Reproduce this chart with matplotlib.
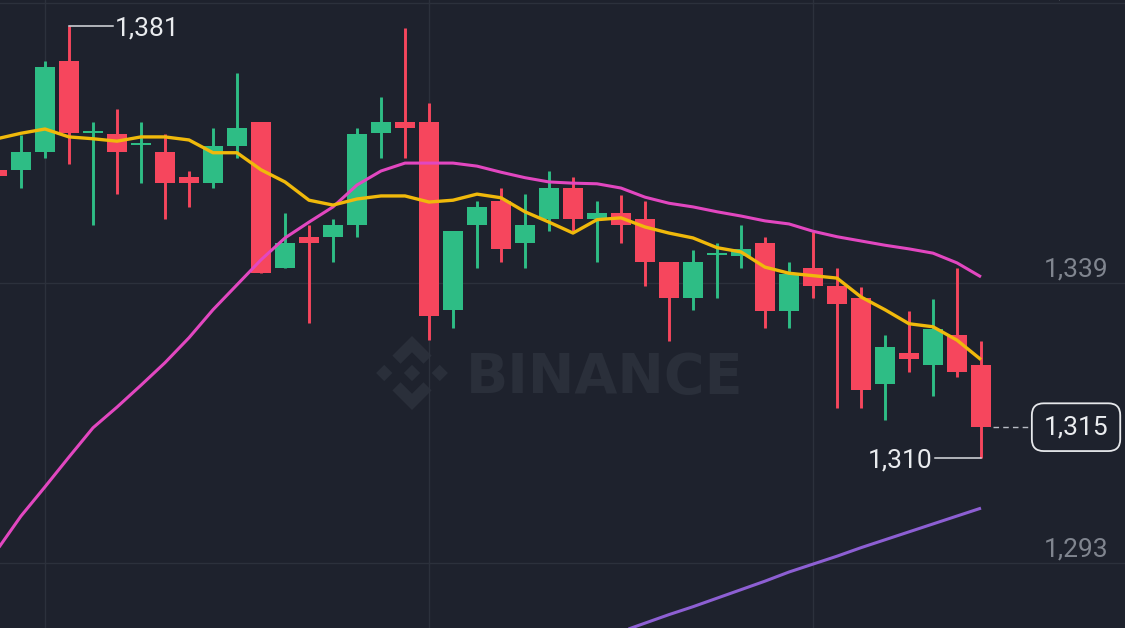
import matplotlib
matplotlib.use('Agg')
import matplotlib.pyplot as plt
from matplotlib.patches import Polygon
from matplotlib.transforms import Affine2D

plt.rc('font', family=['Roboto', 'DejaVu Sans'])
plt.rc('axes', linewidth=0)

bg = '#1e222d'
grid_c = '#2c313c'
up_c = '#2ebd85'
down_c = '#f6465d'
ma7_c = '#f0b90b'
ma25_c = '#e247c0'
ma99_c = '#8d5fd3'
wm_c = '#2a2f3a'

# candle index (k=0 sits on the first vertical grid line)
idx = list(range(-2, 40))
opens = [1357.6, 1357.6, 1360.5, 1375.5, 1363.6, 1363.5, 1361.7, 1360.5, 1356.4, 1355.4,
         1361.5, 1365.5, 1341.5, 1346.6, 1346.6, 1348.5, 1363.6, 1365.5, 1365.5, 1334.6,
         1348.5, 1352.5, 1345.6, 1349.5, 1354.6, 1349.5, 1350.5, 1349.5, 1342.5, 1336.5,
         1343.6, 1343.4, 1345.6, 1334.4, 1341.5, 1338.5, 1336.5, 1322.4, 1327.5, 1325.5,
         1330.5, 1325.5]
highs = [1357.6, 1363.3, 1375.5, 1381.2, 1365.5, 1367.6, 1365.5, 1363.5, 1357.4, 1364.5,
         1373.5, 1365.5, 1350.5, 1348.5, 1349.5, 1364.5, 1369.6, 1380.9, 1368.6, 1347.5,
         1352.5, 1354.6, 1353.6, 1357.4, 1356.4, 1352.5, 1353.5, 1352.5, 1342.5, 1344.4,
         1345.6, 1348.5, 1346.6, 1342.5, 1347.4, 1341.5, 1338.3, 1330.5, 1334.4, 1336.4,
         1341.5, 1329.5]
lows = [1356.6, 1354.6, 1359.5, 1358.6, 1348.5, 1353.6, 1355.4, 1349.5, 1351.5, 1354.6,
        1359.5, 1340.6, 1341.5, 1332.4, 1342.5, 1346.6, 1359.5, 1359.5, 1329.6, 1331.6,
        1341.5, 1342.5, 1341.5, 1347.5, 1347.5, 1342.5, 1345.6, 1338.5, 1329.5, 1334.6,
        1336.5, 1341.5, 1331.6, 1331.6, 1336.5, 1318.5, 1318.5, 1316.5, 1324.4, 1320.4,
        1323.6, 1310.2]
closes = [1356.6, 1360.5, 1374.5, 1363.6, 1364.0, 1360.5, 1362.0, 1355.4, 1355.4, 1361.5,
          1364.5, 1340.6, 1345.6, 1345.6, 1348.5, 1363.5, 1365.5, 1364.5, 1333.6, 1347.5,
          1351.5, 1344.6, 1348.5, 1354.6, 1349.5, 1350.5, 1348.5, 1342.5, 1336.5, 1342.5,
          1343.9, 1344.6, 1334.4, 1340.5, 1338.5, 1335.5, 1321.4, 1328.5, 1326.5, 1331.4,
          1324.4, 1315.3]

ma7 = [1362.7, 1363.6, 1364.3, 1363.0, 1362.7, 1362.3, 1363.0, 1363.0, 1362.5, 1360.4,
       1360.4, 1357.6, 1355.6, 1352.6, 1351.8, 1352.8, 1353.3, 1353.3, 1352.3, 1352.6,
       1353.6, 1353.0, 1350.7, 1349.0, 1347.2, 1349.4, 1349.7, 1348.2, 1347.2, 1346.4,
       1344.8, 1344.1, 1341.6, 1340.6, 1340.2, 1339.8, 1336.7, 1334.6, 1332.3, 1331.8,
       1329.6, 1326.4]
ma25 = [1295.1, 1300.7, 1305.5, 1310.4, 1315.2, 1318.6, 1322.2, 1325.9, 1330.0, 1334.6,
        1338.7, 1342.8, 1346.4, 1349.0, 1351.5, 1355.1, 1357.4, 1358.7, 1358.7, 1358.7,
        1358.2, 1357.2, 1356.3, 1355.6, 1355.4, 1355.3, 1354.6, 1353.1, 1352.1, 1351.5,
        1350.7, 1350.0, 1349.2, 1348.7, 1347.5, 1346.6, 1345.9, 1345.2, 1344.6, 1343.9,
        1342.3, 1340.0]
ma99_idx = list(range(23, 40))
ma99 = [1280.3, 1281.7, 1283.1, 1284.5, 1285.8, 1287.2, 1288.6, 1290.0, 1291.5, 1292.8,
        1294.1, 1295.5, 1296.8, 1298.1, 1299.4, 1300.7, 1302.0]

grid_prices = [1385, 1339, 1293]
grid_labels = ['1,385', '1,339', '1,293']
grid_idx = [0, 16, 32]

hi_idx, hi_price, hi_text = 1, 1381.2, '1,381'
lo_idx, lo_price, lo_text = 39, 1310.2, '1,310'
last_price, last_text = 1315.3, '1,315'

fig = plt.figure(figsize=(11.25, 6.28), dpi=100)
fig.patch.set_facecolor(bg)
ax = fig.add_axes([0, 0, 1, 1])
ax.set_facecolor(bg)
ax.set_xlim(-1.875, 45)
ax.set_ylim(1282.3, 1385.5)
ax.set_xticks([])
ax.set_yticks([])

for p in grid_prices:
    ax.axhline(p, color=grid_c, lw=1.0, zorder=0.2)
for k in grid_idx:
    ax.axvline(k, color=grid_c, lw=1.0, zorder=0.2)

# watermark
ax.text(466/1125., 1-393/628., 'BINANCE', transform=ax.transAxes, fontsize=40,
        fontweight='bold', family='DejaVu Sans', color=wm_c, va='baseline', ha='left', zorder=0.1)
logo_tr = Affine2D().scale(37/1125., 37/628.).translate(412/1125., 1-373/628.) + ax.transAxes
logo_parts = [
    [(0, 0.22), (0.22, 0), (0, -0.22), (-0.22, 0)],
    [(-0.75, 0.22), (-0.53, 0), (-0.75, -0.22), (-0.97, 0)],
    [(0.75, 0.22), (0.97, 0), (0.75, -0.22), (0.53, 0)],
    [(0, 1), (0.53, 0.47), (0.31, 0.25), (0, 0.56), (-0.31, 0.25), (-0.53, 0.47)],
    [(0, -1), (0.53, -0.47), (0.31, -0.25), (0, -0.56), (-0.31, -0.25), (-0.53, -0.47)],
]
for part in logo_parts:
    ax.add_patch(Polygon(part, closed=True, fc=wm_c, ec='none', transform=logo_tr, zorder=0.1))

# candles
cols = [up_c if c >= o else down_c for o, c in zip(opens, closes)]
ax.vlines(idx, lows, highs, colors=cols, lw=2.1, zorder=2)
bottoms = [min(o, c) for o, c in zip(opens, closes)]
heights = [max(abs(c - o), 0.3) for o, c in zip(opens, closes)]
ax.bar(idx, heights, bottom=bottoms, width=0.86, color=cols, lw=0, zorder=2.1)

# moving averages
ax.plot(idx, ma25, color=ma25_c, lw=2.2, zorder=3, solid_capstyle='butt')
ax.plot(idx, ma7, color=ma7_c, lw=2.4, zorder=3.1, solid_capstyle='butt')
ax.plot(ma99_idx, ma99, color=ma99_c, lw=2.2, zorder=3, solid_capstyle='butt')

# price scale labels
for p, t in zip(grid_prices, grid_labels):
    ax.text(44.29, p + 1.0, t, ha='right', va='baseline', fontsize=19,
            color='#80858f', zorder=5)

# high / low markers
ax.plot([hi_idx, 2.83], [hi_price, hi_price], color='#d9dce1', lw=1.1, zorder=4)
ax.text(2.92, hi_price - 0.4, hi_text, ha='left', va='center', fontsize=19,
        color='#eaecef', zorder=5)
ax.plot([37.08, lo_idx], [lo_price, lo_price], color='#d9dce1', lw=1.1, zorder=4)
ax.text(37.0, lo_price - 0.3, lo_text, ha='right', va='center', fontsize=19,
        color='#eaecef', zorder=5)

# last price
ax.plot([39.5, 41.0], [last_price, last_price], color='#b8bcc4', lw=1.0,
        ls=(0, (4, 3)), zorder=4)
ax.text(42.96, last_price, last_text, ha='center', va='center', fontsize=19,
        color='#eaecef', zorder=5,
        bbox=dict(boxstyle='round,pad=0.45,rounding_size=0.45', fc=bg, ec='#e6e8eb', lw=1.3))

fig.savefig('out.png', dpi=100, facecolor=bg)
